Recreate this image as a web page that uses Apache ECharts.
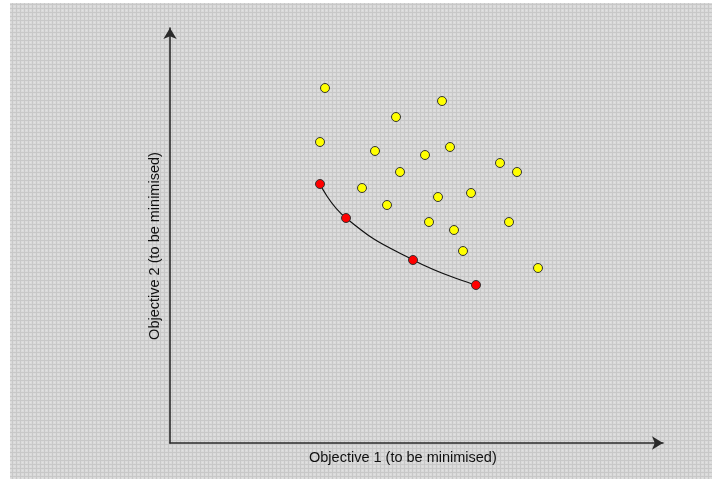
<!DOCTYPE html>
<html>
<head>
<meta charset="utf-8">
<script src="https://cdn.jsdelivr.net/npm/echarts@6/dist/echarts.min.js"></script>
<style>
html,body{margin:0;padding:0;background:#fff;}
#chart{width:712px;height:479px;}
</style>
</head>
<body>
<div id="chart"></div>
<script>
// Dominated solutions (yellow)
const dominatedX = [155, 272, 226, 150, 205, 255, 280, 330, 347, 230, 192, 268, 301, 217, 259, 284, 339, 293, 368];
const dominatedY = [355, 342, 326, 301, 292, 288, 296, 280, 271, 271, 255, 246, 250, 238, 221, 213, 221, 192, 175];
// Pareto front (red)
const paretoX = [150, 176, 243, 306];
const paretoY = [259, 225, 183, 158];
const xLabel = 'Objective 1 (to be minimised)';
const yLabel = 'Objective 2 (to be minimised)';

const pc = document.createElement('canvas');
pc.width = 4; pc.height = 4;
const ctx = pc.getContext('2d');
ctx.fillStyle = '#dadada'; ctx.fillRect(0,0,4,4);
ctx.fillStyle = '#c8c8c8'; ctx.fillRect(0,0,4,1); ctx.fillRect(0,0,1,4);
ctx.fillStyle = '#e2e2e2'; ctx.fillRect(2,2,1,1);

const chart = echarts.init(document.getElementById('chart'));
chart.setOption({
  animation: false,
  backgroundColor: '#ffffff',
  graphic: [
    {type:'rect', z:-10, silent:true, shape:{x:10,y:3,width:702,height:476}, style:{fill:{image:pc, repeat:'repeat'}}},
    {type:'text', left: 309, top: 450, style:{text:xLabel, font:'14.5px "Liberation Sans", Arial, sans-serif', fill:'#111'}},
    {type:'text', x: 155, y: 246, rotation: Math.PI/2, style:{text:yLabel, font:'14.5px "Liberation Sans", Arial, sans-serif', fill:'#111', align:'center', verticalAlign:'middle'}}
  ],
  grid: {left:170, right:49, top:28, bottom:36},
  xAxis: {
    type:'value', min:0, max:493,
    axisLine:{show:true, lineStyle:{color:'#2a2a2a', width:1.6}, symbol:['none','arrow'], symbolSize:[10,11]},
    axisTick:{show:false}, axisLabel:{show:false}, splitLine:{show:false}
  },
  yAxis: {
    type:'value', min:0, max:415,
    axisLine:{show:true, lineStyle:{color:'#2a2a2a', width:1.6}, symbol:['none','arrow'], symbolSize:[10,11]},
    axisTick:{show:false}, axisLabel:{show:false}, splitLine:{show:false}
  },
  series: [
    {
      type:'line', smooth:true, showSymbol:false, z:2,
      data: paretoX.map((x,i)=>[x, paretoY[i]]),
      lineStyle:{color:'#111', width:1.2}
    },
    {
      type:'scatter', symbolSize:9, z:3,
      data: dominatedX.map((x,i)=>[x, dominatedY[i]]),
      itemStyle:{color:'#ffff00', borderColor:'#333', borderWidth:1, opacity:1}
    },
    {
      type:'scatter', symbolSize:9, z:4,
      data: paretoX.map((x,i)=>[x, paretoY[i]]),
      itemStyle:{color:'#ff0000', borderColor:'#333', borderWidth:1, opacity:1}
    }
  ]
});
</script>
</body>
</html>
